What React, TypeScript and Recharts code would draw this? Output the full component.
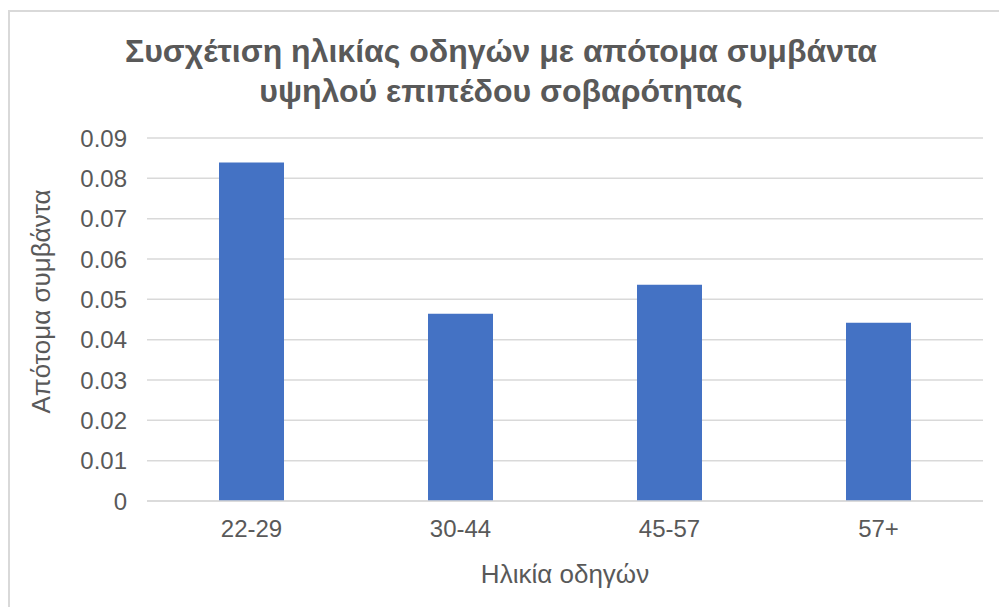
import { BarChart, Bar, XAxis, YAxis, CartesianGrid } from "recharts";

const ageGroups = ["22-29", "30-44", "45-57", "57+"];
const harshEvents = [0.0839, 0.0464, 0.0536, 0.0442];
const yTicks = [0, 0.01, 0.02, 0.03, 0.04, 0.05, 0.06, 0.07, 0.08, 0.09];

const data = ageGroups.map((g, i) => ({ group: g, value: harshEvents[i] }));

const font = '"Liberation Sans", Arial, sans-serif';
const textColor = "#595959";

const renderYLabel = (props: any) => {
  const vb = props.viewBox || { x: 0, y: 138, width: 147, height: 363 };
  const cx = vb.x + 41;
  const cy = vb.y + vb.height / 2 - 18;
  return (
    <text
      x={cx}
      y={cy}
      transform={`rotate(-90 ${cx} ${cy})`}
      textAnchor="middle"
      dominantBaseline="central"
      fill={textColor}
      fontSize={26}
      fontFamily={font}
    >
      Απότομα συμβάντα
    </text>
  );
};

export default function App() {
  return (
    <div style={{ position: "absolute", left: 0, top: 0, width: 999, height: 607, overflow: "hidden", background: "#fff", fontFamily: font }}>
      <div style={{ position: "absolute", left: 8, top: 10, width: 1100, height: 700, border: "2px solid #d9d9d9", boxSizing: "border-box" }} />
      <div style={{ position: "absolute", left: 0, top: 31, width: 1002, textAlign: "center", fontWeight: "bold", fontSize: 32, lineHeight: "40px", color: textColor }}>
        Συσχέτιση ηλικίας οδηγών με απότομα συμβάντα
        <br />
        υψηλού επιπέδου σοβαρότητας
      </div>
      <div style={{ position: "absolute", left: 0, top: 0 }}>
        <BarChart width={999} height={607} data={data} margin={{ top: 138, right: 16, bottom: 0, left: 0 }}>
          <CartesianGrid vertical={false} stroke="#d9d9d9" strokeWidth={1.5} />
          <XAxis
            dataKey="group"
            axisLine={{ stroke: "#d9d9d9", strokeWidth: 1.5 }}
            tickLine={false}
            tickSize={0}
            tickMargin={19}
            tick={{ fill: textColor, fontSize: 24, fontFamily: font }}
            height={106}
            label={{ value: "Ηλικία οδηγών", position: "insideBottom", offset: 24, fill: textColor, fontSize: 26, fontFamily: font }}
          />
          <YAxis
            domain={[0, 0.09]}
            ticks={yTicks}
            interval={0}
            width={147}
            axisLine={false}
            tickLine={false}
            tickSize={0}
            tickMargin={20}
            tick={{ fill: textColor, fontSize: 24, fontFamily: font }}
            label={renderYLabel}
          />
          <Bar dataKey="value" fill="#4472C4" barSize={65} isAnimationActive={false} />
        </BarChart>
      </div>
    </div>
  );
}
